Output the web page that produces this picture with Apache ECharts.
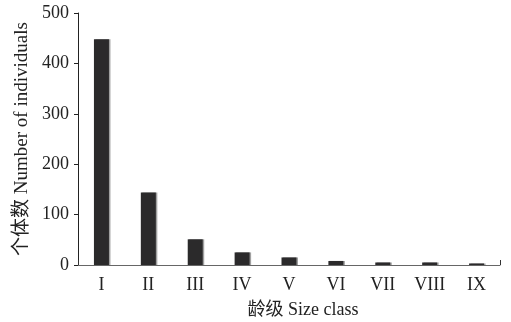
<!DOCTYPE html>
<html>
<head>
<meta charset="utf-8">
<script src="https://cdn.jsdelivr.net/npm/echarts@6/dist/echarts.min.js"></script>
<style>
html,body{margin:0;padding:0;background:#fff;}
#chart{width:511px;height:322px;}
</style>
</head>
<body>
<div id="chart"></div>
<script>
// Size classes and number of individuals in each
const sizeClasses = ['I', 'II', 'III', 'IV', 'V', 'VI', 'VII', 'VIII', 'IX'];
const individuals = [448, 144, 51, 25, 15, 8, 5, 5, 3];
const yTicks = [0, 100, 200, 300, 400, 500];

const fontFamily = '"Liberation Serif", "Times New Roman", "Noto Sans CJK SC", serif';

const chart = echarts.init(document.getElementById('chart'));
chart.setOption({
  animation: false,
  textStyle: { fontFamily: fontFamily },
  grid: { left: 78, right: 11, top: 13, bottom: 57, containLabel: false, outerBoundsMode: 'none' },
  xAxis: {
    type: 'category',
    data: sizeClasses,
    name: '龄级 Size class',
    nameLocation: 'middle',
    nameGap: 36,
    nameTextStyle: { fontSize: 18, color: '#222', fontFamily: fontFamily, padding: [0, 0, 0, 28] },
    axisLine: { lineStyle: { color: '#666', width: 1 } },
    axisTick: {
      show: true,
      inside: true,
      length: 5,
      interval: function (index) { return index === sizeClasses.length - 1; },
      lineStyle: { color: '#333' }
    },
    axisLabel: { fontSize: 18, color: '#222', margin: 11, fontFamily: fontFamily }
  },
  yAxis: {
    type: 'value',
    min: yTicks[0],
    max: yTicks[yTicks.length - 1],
    interval: yTicks[1] - yTicks[0],
    name: '个体数 Number of individuals',
    nameLocation: 'middle',
    nameGap: 46,
    nameTextStyle: { fontSize: 19, color: '#222', fontFamily: fontFamily },
    axisLine: { show: true, lineStyle: { color: '#222', width: 1 } },
    axisTick: { show: true, length: 4, lineStyle: { color: '#222' } },
    axisLabel: { fontSize: 18, color: '#222', margin: 9, fontFamily: fontFamily },
    splitLine: { show: false }
  },
  series: [{
    type: 'bar',
    data: individuals,
    barWidth: 15,
    itemStyle: {
      color: '#2b2a2b',
      shadowColor: 'rgba(150,150,150,0.9)',
      shadowOffsetX: 1.5,
      shadowBlur: 0
    }
  }]
});
</script>
</body>
</html>
